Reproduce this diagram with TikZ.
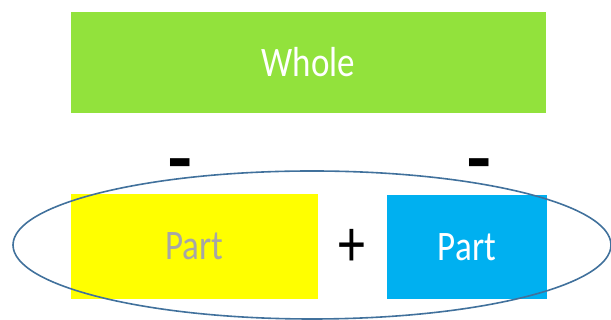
\documentclass[tikz,border=0pt]{standalone}
\usepackage{fontspec}
\setmainfont{Carlito}
\usepackage{graphicx}
\usepackage{tikz}
\usetikzlibrary{positioning}
\definecolor{wholegreen}{RGB}{146,226,60}
\definecolor{partyellow}{RGB}{255,255,0}
\definecolor{partblue}{RGB}{0,176,240}
\definecolor{ringblue}{RGB}{65,113,156}
\definecolor{textgray}{RGB}{166,166,166}
\newcommand{\tall}[2][1.2]{\scalebox{1}[#1]{#2}}
\newcommand{\dash}{\scalebox{1.45}[2.4]{--}}
\tikzset{
  block/.style={draw=none,inner sep=0pt,font=\fontsize{35}{40}\selectfont},
  whole/.style={block,fill=wholegreen,text=white,minimum width=475pt,minimum height=101pt},
  partL/.style={block,fill=partyellow,text=textgray,minimum width=247pt,minimum height=105pt},
  partR/.style={block,fill=partblue,text=white,minimum width=160pt,minimum height=104pt},
  sign/.style={inner sep=0pt,font=\fontsize{38}{40}\selectfont\bfseries},
  ring/.style={draw=ringblue,line width=1.6pt}
}

\begin{document}
\begin{tikzpicture}[x=1pt,y=1pt]
  \useasboundingbox (0,0) rectangle (611,320);
  \node[whole] (whole) at (308.5,257.5) {\tall{Whole}};
  \node[partL] (partA) at (194.5,73.5) {\tall{Part}};
  \node[partR] (partB) at (467,73) {\tall{Part}};
  \node[sign] (minusA) at (180,146) {\dash};
  \node[sign] (minusB) at (479,146) {\dash};
  \node[sign,font=\fontsize{54}{58}\selectfont] (plus) at (352,72) {\tall[1.25]{+}};
  \draw[ring] (312,75) ellipse [x radius=299pt,y radius=74pt];
\end{tikzpicture}
\end{document}
